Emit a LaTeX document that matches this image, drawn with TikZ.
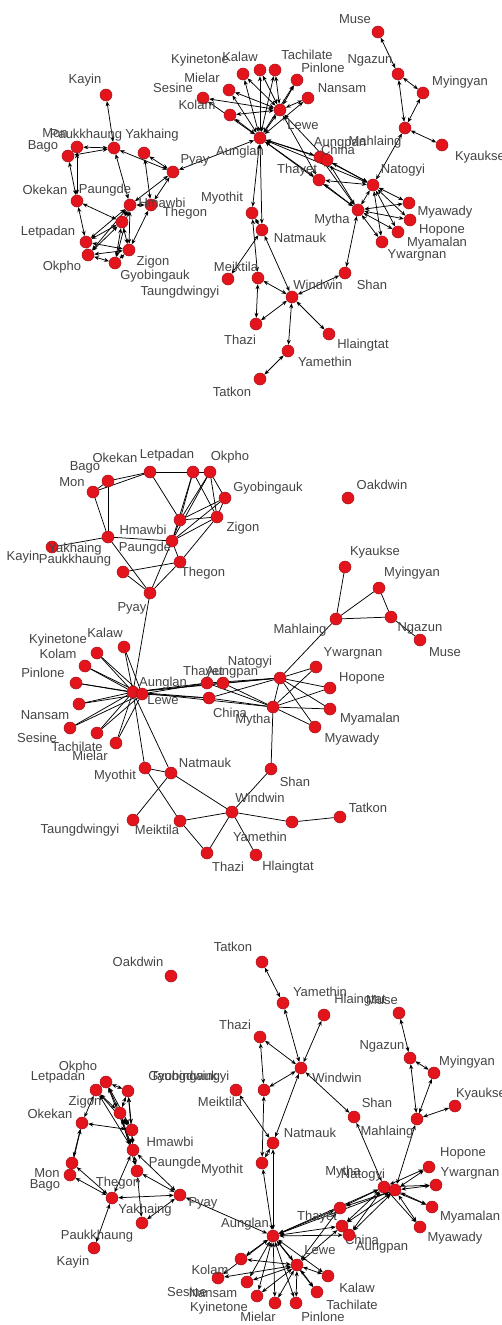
\documentclass[tikz,border=0pt]{standalone}
\usepackage{fontspec}
\setmainfont{Liberation Sans}
\usetikzlibrary{arrows.meta,backgrounds}
\definecolor{vred}{HTML}{E3141B}
\definecolor{vrim}{HTML}{A8121A}
\definecolor{txt}{HTML}{444444}
\tikzset{
  vtx/.style={circle,fill=vred,draw=vrim,line width=0.5pt,minimum size=12pt,inner sep=0pt},
  lbl/.style={font=\fontsize{13}{14}\selectfont,text=txt,inner sep=0pt},
  lnk/.style={draw=black,line width=0.75pt},
  arc/.style={lnk,{Stealth[length=5pt,width=4pt]}-{Stealth[length=5pt,width=4pt]}},
}
% the same road links, drawn in all three layouts
\newcommand{\linklist}{Mon/Bago,Mon/Okekan,Bago/Okekan,Mon/Paukkhaung,Bago/Paukkhaung,%
Okekan/Letpadan,Letpadan/Okpho,Okekan/Hmawbi,Letpadan/Hmawbi,Letpadan/Paungde,Letpadan/Zigon,%
Okpho/Gyobingauk,Okpho/Hmawbi,Okpho/Zigon,Okpho/Paungde,Gyobingauk/Zigon,Gyobingauk/Hmawbi,%
Gyobingauk/Paungde,Zigon/Hmawbi,Zigon/Paungde,Zigon/Thegon,Hmawbi/Paungde,Paungde/Thegon,%
Kayin/Paukkhaung,Paukkhaung/Paungde,Paukkhaung/Pyay,Yakhaing/Thegon,Yakhaing/Pyay,Paungde/Pyay,%
Thegon/Pyay,Pyay/Aunglan,Aunglan/Lewe,%
Aunglan/Kalaw,Aunglan/Kyinetone,Aunglan/Kolam,Aunglan/Pinlone,Aunglan/Nansam,Aunglan/Sesine,%
Aunglan/Tachilate,Aunglan/Mielar,Lewe/Kalaw,Lewe/Kyinetone,Lewe/Kolam,Lewe/Pinlone,Lewe/Nansam,%
Lewe/Sesine,Lewe/Tachilate,Lewe/Mielar,Aunglan/Myothit,Aunglan/Natmauk,Aunglan/Thayet,%
Aunglan/Aungpan,Aunglan/China,Aunglan/Natogyi,Aunglan/Mytha,Lewe/Thayet,Lewe/China,%
Thayet/Natogyi,Thayet/Mytha,Aungpan/Natogyi,Aungpan/Mytha,China/Natogyi,China/Mytha,%
Natogyi/Mytha,Natogyi/Ywargnan,Natogyi/Hopone,Natogyi/Myamalan,Natogyi/Myawady,%
Mytha/Ywargnan,Mytha/Hopone,Mytha/Myamalan,Mytha/Myawady,Mahlaing/Natogyi,Mytha/Shan,%
Mahlaing/Kyaukse,Mahlaing/Myingyan,Mahlaing/Ngazun,Myingyan/Ngazun,Ngazun/Muse,%
Myothit/Natmauk,Myothit/Meiktila,Natmauk/Taungdwingyi,Natmauk/Windwin,Meiktila/Windwin,%
Meiktila/Thazi,Thazi/Windwin,Windwin/Shan,Windwin/Yamethin,Yamethin/Tatkon,Windwin/Hlaingtat}

\begin{document}
\begin{tikzpicture}[x=1pt,y=-1pt]
  \useasboundingbox (0,0) rectangle (502,1325);
  \begin{scope}[on background layer]
    \fill[white] (0,0) rectangle (502,1325);
  \end{scope}

  % top layout (directed)
  \foreach \n/\x/\y/\lx/\ly in {Kayin/106/95/85/80,Mon/77/147/55/133,Bago/68/156/43/146,%
    Paukkhaung/114/148/86/135,Yakhaing/144/153/152/135,Pyay/173/172/195/160,Okekan/77/201/45/190,%
    Paungde/130/205/105/190,Thegon/151/205/185/213,Hmawbi/122/222/162/203,Letpadan/86/242/48/232,%
    Okpho/88/255/62/267,Gyobingauk/115/263/155/276,Zigon/129/250/153/262,%
    Kalaw/260/70/240/57,Kyinetone/243/74/200/60,Mielar/229/90/202/78,Sesine/203/98/173/88,%
    Kolam/230/115/197/105,Tachilate/275/70/307/55,Pinlone/297/80/323/68,Nansam/308/98/342/88,%
    Lewe/280/110/303/125,Aunglan/260/138/240/152,Muse/378/32/355/19,Ngazun/398/74/370/60,%
    Myingyan/423/93/460/82,Mahlaing/405/128/375/142,Kyaukse/442/145/480/157,Natogyi/373/185/403/170,%
    Aungpan/320/157/340/143,China/327/160/338/150,Thayet/319/180/297/170,Mytha/358/210/332/220,%
    Myawady/409/203/445/212,Hopone/410/220/442/230,Myamalan/398/232/437/243,Ywargnan/382/242/417/255,%
    Myothit/252/213/222/198,Natmauk/262/230/300/238,Meiktila/258/278/236/267,%
    Taungdwingyi/228/279/180/292,Windwin/292/297/318/285,Shan/345/273/372/285,Thazi/256/324/240/340,%
    Hlaingtat/329/334/363/345,Yamethin/288/351/325/362,Tatkon/260/379/232/392}
  {\node[vtx] (a-\n) at (\x,\y) {}; \node[lbl] (a-\n-t) at (\lx,\ly) {\n};}
  \begin{scope}[on background layer]
    \foreach \u/\v in \linklist {\draw[arc] (a-\u) -- (a-\v);}
  \end{scope}

  % middle layout (undirected)
  \foreach \n/\x/\y/\lx/\ly in {Mon/93/492/72/482,Bago/108/481/85/467,Okekan/150/472/115/458,%
    Letpadan/193/472/167/455,Okpho/210/472/230/457,Gyobingauk/225/498/268/488,Zigon/217/517/243/528,%
    Hmawbi/180/520/143/530,Paungde/172/541/145/548,Paukkhaung/108/537/75/560,Kayin/52/547/23/557,%
    Yakhaing/123/572/75/549,Thegon/180/562/203/573,Pyay/150/593/132/608,Oakdwin/348/498/382/485,%
    Kyaukse/345/567/375/552,Myingyan/379/588/412/573,Mahlaing/336/619/300/630,Ngazun/391/617/420/628,%
    Muse/420/640/445/652,Kalaw/124/647/105/633,Kyinetone/97/653/58/640,Kolam/85/666/58/654,%
    Pinlone/76/683/43/673,Nansam/79/704/45/715,Sesine/70/728/37/738,Tachilate/97/733/77/747,%
    Mielar/116/743/90/756,Aunglan/133/692/163/683,Lewe/142/694/163/700,Thayet/207/683/203/672,%
    Aungpan/223/683/232/672,China/209/698/230/713,Natogyi/280/678/250/662,Mytha/273/707/253/720,%
    Ywargnan/316/667/353/653,Hopone/330/688/362/678,Myamalan/330/709/370/719,Myawady/315/727/352/739,%
    Myothit/145/768/115/776,Natmauk/171/773/205/763,Taungdwingyi/133/820/80/830,Meiktila/180/821/157/830,%
    Thazi/207/853/228/867,Windwin/232/812/260/798,Shan/271/769/295/782,Yamethin/292/822/260/837,%
    Tatkon/340/817/368/808,Hlaingtat/256/855/288/867}
  {\node[vtx] (b-\n) at (\x,\y) {}; \node[lbl] (b-\n-t) at (\lx,\ly) {\n};}
  \begin{scope}[on background layer]
    \foreach \u/\v in \linklist {\draw[lnk] (b-\u) -- (b-\v);}
  \end{scope}

  % bottom layout (directed)
  \foreach \n/\x/\y/\lx/\ly in {Oakdwin/171/976/138/962,Tatkon/262/962/233/947,Yamethin/283/1003/320/992,%
    Hlaingtat/324/1015/360/1000,Muse/399/1013/382/1000,Thazi/260/1037/235/1025,Windwin/301/1068/337/1078,%
    Taungdwingyi/236/1090/190/1077,Meiktila/264/1090/220/1102,Ngazun/410/1058/382/1046,%
    Myingyan/434/1073/467/1062,Kyaukse/455/1106/481/1094,Shan/354/1117/377/1103,Mahlaing/417/1119/387/1132,%
    Natmauk/273/1143/310/1133,Myothit/262/1163/222/1170,Mytha/384/1187/343/1172,Natogyi/395/1190/363/1175,%
    Hopone/429/1167/463/1153,Ywargnan/436/1185/470/1173,Myamalan/432/1207/470/1217,Myawady/420/1227/455/1238,%
    Thayet/340/1208/317/1217,China/342/1226/362/1240,Aungpan/349/1235/382/1247,Aunglan/273/1236/245/1224,%
    Lewe/297/1265/320/1250,Kalaw/328/1276/357/1288,Tachilate/317/1292/352/1305,Pinlone/296/1303/323/1317,%
    Mielar/275/1303/258/1317,Kyinetone/257/1296/219/1308,Nansam/247/1282/213/1293,Sesine/218/1278/187/1292,%
    Kolam/241/1259/210/1270,Okpho/106/1082/78/1067,Letpadan/96/1090/58/1077,Gyobingauk/128/1091/183/1077,%
    Zigon/120/1113/85/1102,Okekan/82/1123/50/1114,Hmawbi/132/1130/170/1142,Paungde/133/1150/175/1163,%
    Thegon/137/1171/118/1183,Mon/72/1163/47/1173,Bago/70/1175/45/1185,Paukkhaung/112/1198/97/1236,%
    Yakhaing/142/1223/145/1210,Pyay/180/1195/203/1203,Kayin/94/1248/73/1262}
  {\node[vtx] (c-\n) at (\x,\y) {}; \node[lbl] (c-\n-t) at (\lx,\ly) {\n};}
  \begin{scope}[on background layer]
    \foreach \u/\v in \linklist {\draw[arc] (c-\u) -- (c-\v);}
  \end{scope}
\end{tikzpicture}
\end{document}
